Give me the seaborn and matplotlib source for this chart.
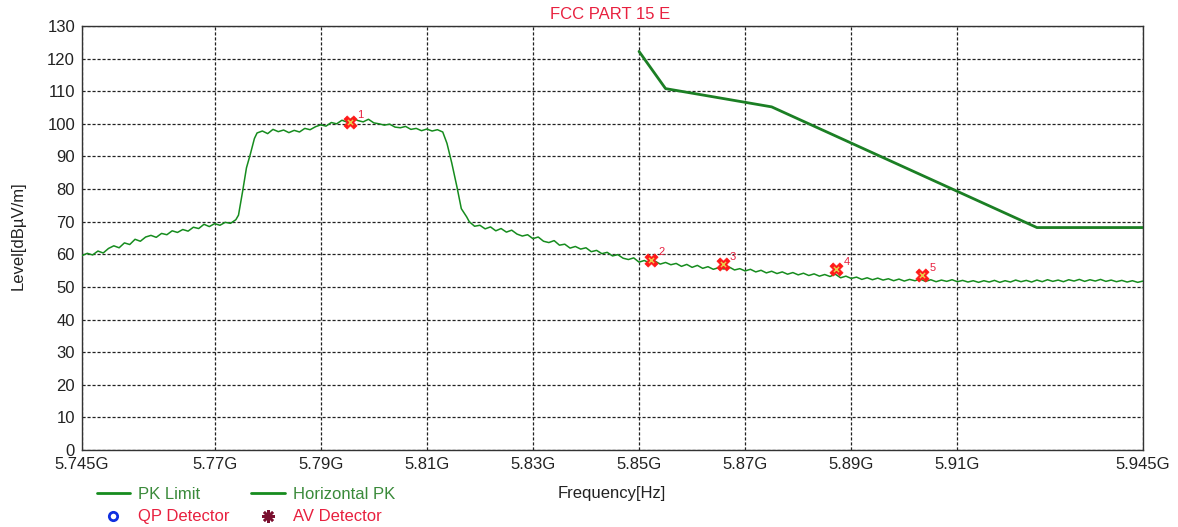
import numpy as np
import pandas as pd
import matplotlib
matplotlib.use("Agg")
import matplotlib.pyplot as plt
from matplotlib.lines import Line2D
import seaborn as sns

# ---- datos (GHz, dBuV/m) ----
freq_pk = [
    5.745, 5.746, 5.747, 5.748, 5.749, 5.750, 5.751, 5.752, 5.753, 5.754,
    5.755, 5.756, 5.757, 5.758, 5.759, 5.760, 5.761, 5.762, 5.763, 5.764,
    5.765, 5.766, 5.767, 5.768, 5.769, 5.770, 5.771, 5.772, 5.773, 5.774,
    5.7745, 5.7753, 5.776, 5.7767, 5.7775, 5.778,
    5.779, 5.780, 5.781, 5.782, 5.783, 5.784, 5.785, 5.786, 5.787, 5.788,
    5.789, 5.790, 5.791, 5.792, 5.793, 5.794, 5.795, 5.796, 5.797, 5.798,
    5.799, 5.800, 5.801, 5.802, 5.803, 5.804, 5.805, 5.806, 5.807, 5.808,
    5.809, 5.810, 5.811, 5.812, 5.813,
    5.8138, 5.8147, 5.8157, 5.8165, 5.8175,
    5.818, 5.819, 5.820, 5.821, 5.822, 5.823, 5.824, 5.825, 5.826, 5.827,
    5.828, 5.829, 5.830, 5.831, 5.832, 5.833, 5.834, 5.835, 5.836, 5.837,
    5.838, 5.839, 5.840, 5.841, 5.842, 5.843, 5.844, 5.845, 5.846, 5.847,
    5.848, 5.849, 5.850, 5.851, 5.852, 5.853, 5.854, 5.855, 5.856, 5.857,
    5.858, 5.859, 5.860, 5.861, 5.862, 5.863, 5.864, 5.865, 5.866, 5.867,
    5.868, 5.869, 5.870, 5.871, 5.872, 5.873, 5.874, 5.875, 5.876, 5.877,
    5.878, 5.879, 5.880, 5.881, 5.882, 5.883, 5.884, 5.885, 5.886, 5.887,
    5.888, 5.889, 5.890, 5.891, 5.892, 5.893, 5.894, 5.895, 5.896, 5.897,
    5.898, 5.899, 5.900, 5.901, 5.902, 5.903, 5.904, 5.905, 5.906, 5.907,
    5.908, 5.909, 5.910, 5.911, 5.912, 5.913, 5.914, 5.915, 5.916, 5.917,
    5.918, 5.919, 5.920, 5.921, 5.922, 5.923, 5.924, 5.925, 5.926, 5.927,
    5.928, 5.929, 5.930, 5.931, 5.932, 5.933, 5.934, 5.935, 5.936, 5.937,
    5.938, 5.939, 5.940, 5.941, 5.942, 5.943, 5.944, 5.945,
]
level_pk = [
    59.6, 60.3, 59.8, 61.0, 60.4, 61.8, 62.6, 62.0, 63.5, 63.0,
    64.6, 64.0, 65.3, 65.8, 65.2, 66.4, 66.0, 67.2, 66.7, 67.6,
    67.1, 68.3, 67.9, 69.2, 68.5, 69.4, 68.9, 69.8, 69.5, 70.6,
    72.0, 79.5, 86.5, 90.5, 95.5, 97.2,
    97.8, 97.0, 98.3, 97.6, 98.1, 97.3, 98.0, 97.5, 98.6, 98.2,
    99.1, 99.7, 99.3, 100.4, 100.0, 101.1, 100.5, 101.8, 101.0, 100.6,
    101.4, 100.3, 100.0, 99.6, 99.9, 99.0, 98.8, 99.2, 98.3, 98.6,
    97.9, 98.4, 97.8, 98.2, 97.5,
    94.0, 88.0, 80.5, 74.0, 71.5,
    70.0, 68.6, 68.9, 67.8, 68.4, 67.2, 67.9, 66.8, 67.4, 66.2,
    65.6, 66.0, 64.8, 65.3, 64.0, 63.6, 64.2, 62.8, 63.1, 61.9,
    62.4, 61.6, 62.0, 60.8, 61.2, 60.2, 60.6, 59.5, 59.9, 58.8,
    58.4, 58.9, 57.6, 58.1, 57.3, 57.9, 57.0, 57.5, 56.8, 57.2,
    56.3, 56.9, 56.0, 56.6, 55.7, 56.2, 55.4, 55.9, 55.5, 56.1,
    55.2, 55.6, 54.9, 55.4, 54.6, 55.1, 54.3, 54.8, 54.1, 54.6,
    53.9, 54.4, 53.7, 54.2, 53.5, 54.0, 53.3, 53.8, 53.2, 53.9,
    52.8, 53.3, 52.6, 53.0, 52.3, 52.8, 52.2, 52.7, 52.1, 52.5,
    51.9, 52.4, 51.8, 52.3, 51.9, 52.4, 51.7, 52.2, 51.6, 52.1,
    51.7, 52.2, 51.6, 52.0, 51.5, 51.9, 51.4, 51.9, 51.5, 52.0,
    51.4, 51.9, 51.5, 52.1, 51.6, 52.0, 51.5, 52.1, 51.6, 52.2,
    51.7, 52.1, 51.6, 52.2, 51.8, 52.3, 51.7, 52.2, 51.8, 52.3,
    51.7, 52.1, 51.6, 52.0, 51.5, 51.9, 51.4, 51.8,
]

freq_limit = [5.850, 5.855, 5.875, 5.925, 5.945]
level_limit = [122.2, 110.8, 105.2, 68.2, 68.2]

marker_ids = ["1", "2", "3", "4", "5"]
marker_freq = [5.7955, 5.8523, 5.8658, 5.8872, 5.9034]
marker_level = [100.6, 58.4, 56.9, 55.5, 53.6]

x_ticks = [5.745, 5.77, 5.79, 5.81, 5.83, 5.85, 5.87, 5.89, 5.91, 5.945]
x_tick_labels = ["5.745G", "5.77G", "5.79G", "5.81G", "5.83G", "5.85G",
                 "5.87G", "5.89G", "5.91G", "5.945G"]
y_ticks = list(range(0, 131, 10))

VERDE = "#168c1e"
VERDE_LIM = "#1b7f24"
ROJO = "#e8203f"

sns.set_style("white")
plt.rcParams['font.family'] = ['Liberation Sans', 'DejaVu Sans']

fig = plt.figure(figsize=(11.78, 5.27), dpi=100)
ax = fig.add_axes([0.0696, 0.1461, 0.9007, 0.8046])

df_pk = pd.DataFrame({"freq": freq_pk, "level": level_pk})
df_lim = pd.DataFrame({"freq": freq_limit, "level": level_limit})

sns.lineplot(data=df_lim, x="freq", y="level", ax=ax, color=VERDE_LIM, lw=2.0,
             estimator=None, sort=False, zorder=3)
sns.lineplot(data=df_pk, x="freq", y="level", ax=ax, color=VERDE, lw=1.1,
             estimator=None, sort=False, zorder=3)

# marcadores
ax.scatter(marker_freq, marker_level, marker="X", s=90, color="#ff1a1a",
           edgecolor="#ff1a1a", linewidth=0.5, zorder=5)
ax.scatter(marker_freq, marker_level, marker="x", s=14, color="#e8d04a",
           linewidth=1.0, zorder=6)
for mid, fx, ly in zip(marker_ids, marker_freq, marker_level):
    ax.annotate(mid, (fx, ly), xytext=(5, 3), textcoords="offset points",
                color=ROJO, fontsize=8, zorder=7)

ax.set_xlim(5.745, 5.945)
ax.set_ylim(0, 130)
ax.set_xticks(x_ticks)
ax.set_xticklabels(x_tick_labels)
ax.set_yticks(y_ticks)
ax.tick_params(axis="both", labelsize=12, length=0, pad=5, colors="#222222")
ax.grid(True, color="#222222", linestyle=(0, (2.5, 1.5)), linewidth=0.9)
for s in ax.spines.values():
    s.set_color("#333333")
    s.set_linewidth(1.0)

ax.set_xlabel("")
ax.set_ylabel("")
fig.text(0.0155, 0.552, "Level[dBµV/m]", ha="center", va="center",
         rotation=90, fontsize=12, color="#222222")
fig.text(0.5195, 0.064, "Frequency[Hz]", ha="center", va="center",
         fontsize=12, color="#222222")
fig.text(0.518, 0.973, "FCC PART 15 E", ha="center", va="center",
         fontsize=12, color=ROJO)

# leyenda
handles = [
    Line2D([0], [0], color=VERDE, lw=2),
    Line2D([0], [0], marker="o", color="none", markeredgecolor="#1030e0",
           markerfacecolor="none", markeredgewidth=2, markersize=6),
    Line2D([0], [0], color=VERDE, lw=2),
    Line2D([0], [0], marker=(8, 2, 0), color="none", markeredgecolor="#7a1030",
           markersize=9, markeredgewidth=1.8),
]
labels = ["PK Limit", "QP Detector", "Horizontal PK", "AV Detector"]
leg = fig.legend(handles, labels, ncol=2, loc="upper left",
                 bbox_to_anchor=(0.082, 0.076), frameon=False, fontsize=12,
                 handlelength=2.0, handletextpad=0.5, columnspacing=1.3,
                 labelspacing=0.45, borderaxespad=0, borderpad=0)
colores = ["#3a8a3a", ROJO, "#3a8a3a", ROJO]
for t, c in zip(leg.get_texts(), colores):
    t.set_color(c)

fig.savefig("out.png", dpi=100)
